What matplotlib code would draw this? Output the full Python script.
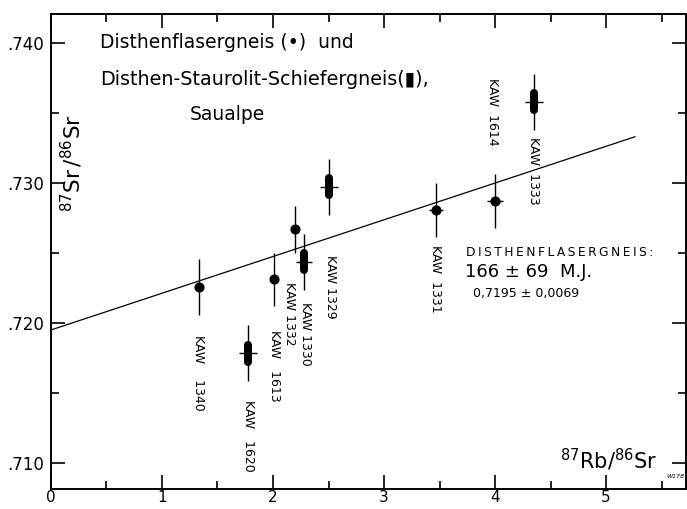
import matplotlib
matplotlib.use("Agg")
import matplotlib.pyplot as plt
import numpy as np

# Disthenflasergneis (circles)
gneis_names = ["KAW    1340", "KAW   1613", "KAW 1332", "KAW  1331", "KAW  1614"]
gneis_x = [1.336, 2.009, 2.198, 3.468, 4.000]
gneis_y = [0.72259, 0.72312, 0.72669, 0.72807, 0.72871]
gneis_yerr = [0.0020, 0.0019, 0.0017, 0.0019, 0.0019]
gneis_xerr = [0.0, 0.0, 0.0, 0.06, 0.075]

# Disthen-Staurolit-Schiefergneis (bars)
schiefer_names = ["KAW   1620", "KAW 1330", "KAW 1329", "KAW  1333"]
schiefer_x = [1.778, 2.279, 2.505, 4.351]
schiefer_y = [0.71784, 0.72438, 0.72974, 0.73581]
schiefer_yerr = [0.0020, 0.0020, 0.0020, 0.0020]
schiefer_xerr = [0.08, 0.07, 0.08, 0.08]

# isochron ends
iso_x = [0.0, 5.26]
iso_y = [0.7195, 0.7333]

# label anchors (top of rotated text)
gneis_lab_x = [1.333, 2.009, 2.153, 3.468, 3.98]
gneis_lab_y = [0.71914, 0.71950, 0.72293, 0.72557, 0.73750]
schiefer_lab_x = [1.775, 2.290, 2.514, 4.351]
schiefer_lab_y = [0.71450, 0.72150, 0.72486, 0.73329]

fig = plt.figure(figsize=(6.87, 5.09), dpi=100)
ax = fig.add_axes([0.0742, 0.0393, 0.9243, 0.9332])
ax.set_xlim(0, 5.72)
ax.set_ylim(0.70814, 0.74207)

ax.plot(iso_x, iso_y, color="black", lw=0.9)

ax.errorbar(gneis_x, gneis_y, yerr=gneis_yerr, xerr=gneis_xerr, fmt="o",
            color="black", ms=6.3, elinewidth=1.0, capsize=0)
ax.errorbar(schiefer_x, schiefer_y, yerr=schiefer_yerr, xerr=schiefer_xerr,
            fmt="none", ecolor="black", elinewidth=1.0, capsize=0)
bar_half = 0.0006
for x, y in zip(schiefer_x, schiefer_y):
    ax.plot([x, x], [y - bar_half, y + bar_half], color="black", lw=5.8,
            solid_capstyle="round")

for name, x, y in zip(gneis_names, gneis_lab_x, gneis_lab_y):
    ax.text(x, y, name, rotation=-90, ha="center", va="top", fontsize=9)
for name, x, y in zip(schiefer_names, schiefer_lab_x, schiefer_lab_y):
    ax.text(x, y, name, rotation=-90, ha="center", va="top", fontsize=9)

# header text
ax.text(0.441, 0.7400, "Disthenflasergneis (•)  und", fontsize=13.5, va="center")
ax.text(0.441, 0.73736, "Disthen-Staurolit-Schiefergneis(▮),", fontsize=13.8,
        va="center")
ax.text(1.586, 0.73486, "Saualpe", fontsize=13.5, va="center", ha="center")

ts = "\u2009"
ax.text(3.739, 0.7250, ts.join("DISTHENFLASERGNEIS:"), fontsize=8.8, va="center")
ax.text(3.730, 0.72364, "166 ± 69  M.J.", fontsize=13, va="center")
ax.text(3.802, 0.72214, "0,7195 ± 0,0069", fontsize=9, va="center")

ax.text(0.19, 0.73143, r"$^{87}\mathrm{Sr}\,/^{86}\mathrm{Sr}$", rotation=90,
        fontsize=15.5, ha="center", va="center")
ax.text(5.459, 0.71021, r"$^{87}\mathrm{Rb}/^{86}\mathrm{Sr}$", fontsize=15,
        ha="right", va="center")
ax.text(5.71, 0.7090, "W178", fontsize=4.5, style="italic", ha="right", va="center")

ax.set_xticks([0, 1, 2, 3, 4, 5])
ax.set_xticks(np.arange(0.5, 5.6, 1.0), minor=True)
ax.set_yticks([0.710, 0.720, 0.730, 0.740])
ax.set_yticklabels([".710", ".720", ".730", ".740"])
ax.set_yticks([0.715, 0.725, 0.735], minor=True)
ax.set_xticklabels(["0", "1", "2", "3", "4", "5"])
ax.tick_params(which="both", direction="in", top=True, right=True, width=1.2,
               labelsize=12)
ax.tick_params(which="major", length=10)
ax.tick_params(which="minor", length=5.5)
ax.tick_params(axis="x", pad=1, labelsize=11)
ax.tick_params(axis="y", pad=5)
for s in ax.spines.values():
    s.set_linewidth(1.4)

fig.savefig("out.png", dpi=100)
